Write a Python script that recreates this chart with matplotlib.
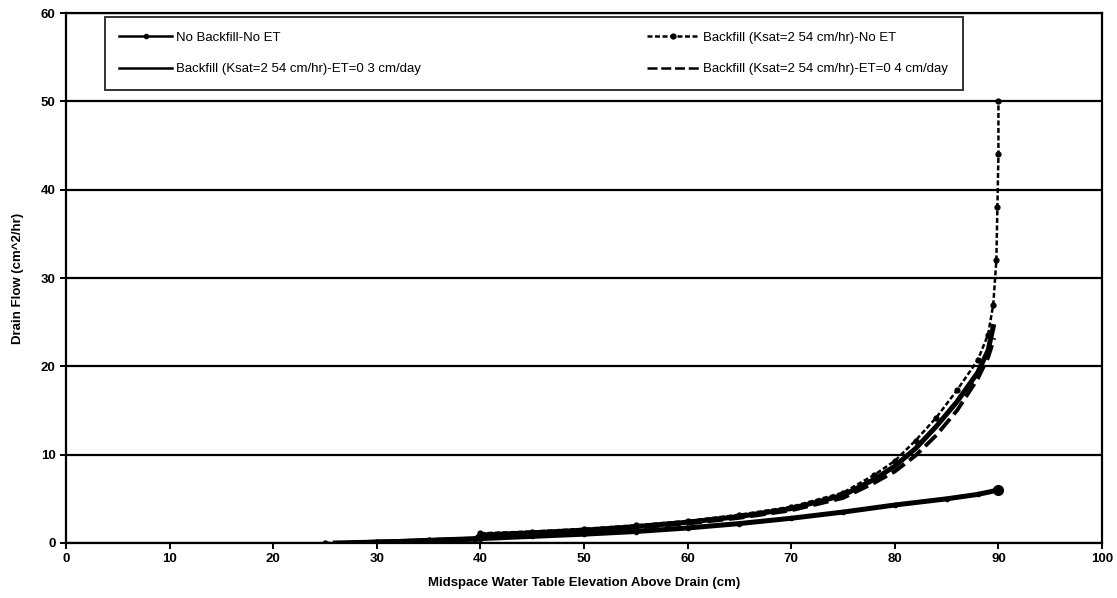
import matplotlib
matplotlib.use("Agg")
import matplotlib.pyplot as plt
import numpy as np

# =========================
# Data
# =========================

series_names = [
    "No Backfill-No ET",
    "Backfill (Ksat=2 54 cm/hr)-No ET",
    "Backfill (Ksat=2 54 cm/hr)-ET=0 3 cm/day",
    "Backfill (Ksat=2 54 cm/hr)-ET=0 4 cm/day",
]

nobf_x = [28, 30, 33, 36, 40, 45, 50, 55, 60, 65, 70, 75, 80, 85, 88, 90]
nobf_y = [0.0, 0.1, 0.2, 0.35, 0.5, 0.75, 1.0, 1.3, 1.7, 2.2, 2.8, 3.5, 4.3, 5.0, 5.5, 6.0]

bf_x = [25, 30, 35, 39.5, 40, 45, 50, 55, 60, 65, 70, 75, 78, 80, 82, 84, 86, 88,
        89, 89.5, 89.8, 89.9, 90, 90]
bf_y = [0.0, 0.1, 0.3, 0.5, 1.1, 1.3, 1.6, 2.0, 2.5, 3.2, 4.1, 5.7, 7.7, 9.3, 11.6,
        14.2, 17.3, 20.7, 23.6, 27.0, 32.0, 38.0, 44.0, 50.0]

et3_x = [26, 30, 35, 39.5, 40, 45, 50, 55, 60, 65, 70, 75, 78, 80, 82, 84, 86, 88,
         89, 89.5]
et3_y = [0.0, 0.1, 0.25, 0.45, 0.9, 1.15, 1.45, 1.85, 2.35, 3.0, 3.9, 5.4, 7.2, 8.7,
         10.7, 13.2, 16.0, 19.3, 21.8, 24.5]

et4_x = [27, 30, 35, 39.5, 40, 45, 50, 55, 60, 65, 70, 75, 78, 80, 82, 84, 86, 88,
         89, 89.6]
et4_y = [0.0, 0.1, 0.2, 0.4, 0.8, 1.05, 1.35, 1.75, 2.2, 2.85, 3.7, 5.1, 6.8, 8.1,
         9.9, 12.2, 15.0, 18.6, 21.0, 23.2]

x_ticks = [0, 10, 20, 30, 40, 50, 60, 70, 80, 90, 100]
y_ticks = [0, 10, 20, 30, 40, 50, 60]

# =========================
# Figure
# =========================

plt.rcParams['font.family'] = ['Liberation Sans', 'DejaVu Sans']

fig = plt.figure(figsize=(11.17, 5.98), dpi=100)
ax = fig.add_axes([0.0591, 0.092, 0.9275, 0.886])

h1, = ax.plot(nobf_x, nobf_y, color='black', lw=3.6, marker='o', ms=3,
              label=series_names[0])
ax.plot(nobf_x[-1:], nobf_y[-1:], color='black', marker='o', ms=7, ls='none')

h2, = ax.plot(bf_x, bf_y, color='black', lw=1.8, ls=(0, (2, 1)), marker='o',
              ms=3.5, label=series_names[1])

h3, = ax.plot(et3_x, et3_y, color='black', lw=3.6, label=series_names[2])

h4, = ax.plot(et4_x, et4_y, color='black', lw=2.8, ls=(0, (4, 1.5)),
              label=series_names[3])

# =========================
# Axes styling
# =========================

ax.set_xlim(0, 100)
ax.set_ylim(0, 60)
ax.set_xticks(x_ticks)
ax.set_yticks(y_ticks)

ax.yaxis.grid(True, color='black', lw=1.6)
ax.set_axisbelow(True)

for side in ['left', 'bottom', 'top', 'right']:
    ax.spines[side].set_linewidth(1.6)
    ax.spines[side].set_color('black')

ax.tick_params(direction='out', length=4, width=1.4, colors='black',
               labelsize=9.5)
for lbl in ax.get_xticklabels() + ax.get_yticklabels():
    lbl.set_fontweight('bold')

ax.set_xlabel("Midspace Water Table Elevation Above Drain (cm)",
              fontsize=9.5, fontweight='bold', labelpad=8)
ax.set_ylabel("Drain Flow (cm^2/hr)", fontsize=9.5, fontweight='bold',
              labelpad=12)

# legend is filled row by row in the scan
leg = ax.legend([h1, h3, h2, h4],
                [series_names[0], series_names[2], series_names[1], series_names[3]],
                ncol=2, loc='lower left', mode='expand',
                bbox_to_anchor=(0.0376, 0.855, 0.828, 0.139),
                frameon=True, fancybox=False, edgecolor='black',
                fontsize=9.5, handlelength=4.0, handletextpad=0.3,
                borderaxespad=0, borderpad=1.1,
                labelspacing=1.45, columnspacing=2)
leg.get_frame().set_linewidth(1.4)
for line in leg.get_lines():
    line.set_linewidth(1.8)

fig.savefig("out.png", dpi=100)
